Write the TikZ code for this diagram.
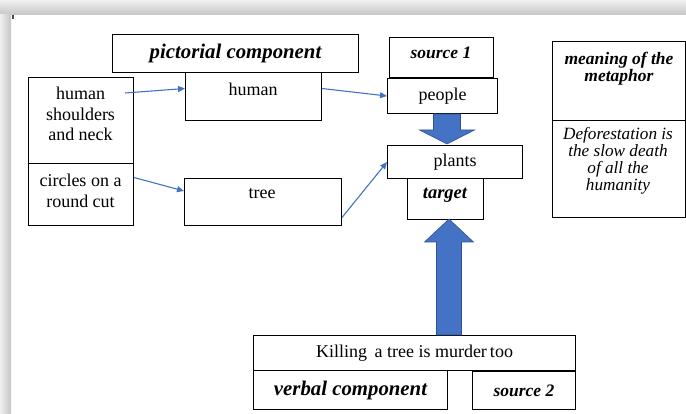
\documentclass[tikz,border=0pt]{standalone}
\usepackage{fontspec}
\setmainfont{Liberation Serif}
\usetikzlibrary{positioning, arrows.meta}
\definecolor{linkblue}{RGB}{68,114,196}
\definecolor{edgeblue}{RGB}{47,82,143}

\begin{document}
\begin{tikzpicture}
        [
            x=1pt, y=-1pt,
            box/.style={draw, line width=1pt, inner sep=0pt, anchor=north west, font=\fontsize{18}{20}\selectfont},
            plain/.style={inner sep=0pt, align=center, font=\fontsize{18}{20.5}\selectfont},
            tag/.style={inner sep=0pt, align=center, font=\fontsize{17.5}{17}\selectfont\bfseries\itshape},
            bigtag/.style={font=\fontsize{20.8}{20}\selectfont\bfseries\itshape},
            link/.style={draw=linkblue, line width=1.1pt, -{Triangle[length=7pt,width=6pt]}},
            block/.style={fill=linkblue, draw=edgeblue, line width=0.6pt},
        ]
        \useasboundingbox (0,0) rectangle (686,414);
        % page shadow
        \fill[white] (0,0) rectangle (686,414);
        \shade[top color=gray!12, bottom color=gray!45] (0,0) rectangle (686,15);
        \shade[left color=gray!12, right color=gray!45] (0,15) rectangle (11,414);
        \fill[gray!60!black] (12,15) rectangle (14,19);

        % pictorial side
        \node[box, bigtag, minimum width=246, minimum height=38] (pict) at (112,34) {pictorial component};
        \node[box, minimum width=136, minimum height=48] (human) at (185,72) {};
        \node[plain, anchor=base] (humant) at (253,96) {human};
        \node[box, minimum width=105, minimum height=86] (shld) at (28,77) {};
        \node[plain, anchor=north] (shldt) at (80.5,87) {human\\shoulders\\and neck};
        \node[box, minimum width=105, minimum height=62] (circ) at (28,163) {};
        \node[plain, anchor=north] (circt) at (80.5,174) {circles on a\\round cut};
        \node[box, minimum width=157, minimum height=47] (tree) at (184,178) {};
        \node[plain, anchor=base] (treet) at (262,199) {tree};

        % source and target
        \node[box, minimum width=104, minimum height=40] (src1) at (389,37) {};
        \node[tag, anchor=base] (src1t) at (441,59) {source 1};
        \node[box, minimum width=110, minimum height=35] (people) at (387,78) {people};
        \node[box, minimum width=135, minimum height=33] (plants) at (387,145) {plants};
        \node[box, minimum width=76, minimum height=41] (target) at (407,178) {};
        \node[tag, font=\fontsize{18.5}{18}\selectfont\bfseries\itshape, anchor=base] (targett) at (445,199) {target};

        % meaning
        \node[box, minimum width=133, minimum height=79] (mean) at (552,41) {};
        \node[tag, anchor=north] (meant) at (619,52) {meaning of the\\metaphor};
        \node[box, minimum width=133, minimum height=97] (defor) at (552,120) {};
        \node[plain, anchor=north, font=\fontsize{17.2}{17}\selectfont\itshape] (defort) at (618,127)
            {Deforestation is\\the slow death\\of all the\\humanity};

        % verbal side
        \node[box, minimum width=322, minimum height=35] (kill) at (253,335) {Killing\, a tree is murder\,too};
        \node[box, bigtag, minimum width=194, minimum height=39] (verbal) at (253,370) {verbal component};
        \node[box, minimum width=103, minimum height=38] (src2) at (472,371) {};
        \node[tag] (src2t) at (src2.center) {source 2};

        % thin links
        \coordinate (shldout) at (125,93);
        \draw[link] (shldout) -- ([yshift=8pt]human.west);
        \draw[link] ([yshift=8pt]human.east) -- (people.west);
        \draw[link] ([yshift=17pt]circ.east) -- ([yshift=11pt]tree.west);
        \draw[link] ([yshift=-15.5pt]tree.east) -- (plants.west);

        % block arrows
        \draw[block] ([xshift=-9pt]people.south) -- ++(27,0) -- ++(0,16) -- ++(14,0)
            -- ++(-27.5,14) -- ++(-27.5,-14) -- ++(14,0) -- cycle;
        \draw[block] ([xshift=22pt]kill.north) -- ++(25,0) -- ++(0,-93) -- ++(12,0)
            -- ++(-24.5,-23) -- ++(-24.5,23) -- ++(12,0) -- cycle;
    \end{tikzpicture}
\end{document}
